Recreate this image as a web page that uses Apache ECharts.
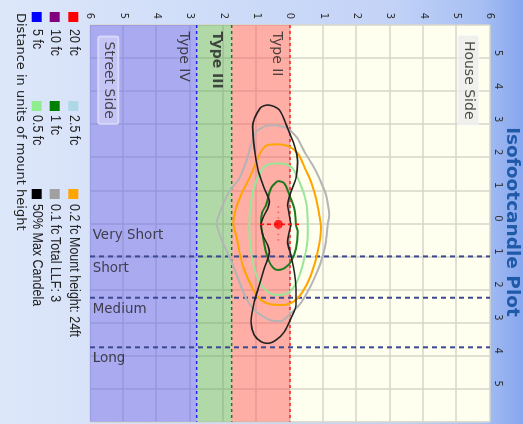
<!DOCTYPE html>
<html><head><meta charset="utf-8">
<script src="https://cdn.jsdelivr.net/npm/echarts@6/dist/echarts.min.js"></script>
<style>
html,body{margin:0;padding:0;overflow:hidden;width:523px;height:424px;background:#dfe8fb;}
#wrap{position:absolute;left:0;top:0;width:424px;height:523px;transform-origin:0 0;transform:translate(523px,0) rotate(90deg);}
#chart{width:424px;height:523px;}
</style></head><body><div id="wrap"><div id="chart"></div></div>
<script>
// ---- data: points are [lateral, longitudinal] in units of mount height ----
const fc01 = [[-0.42,-2.97],[-0.07,-2.87],[0.23,-2.57],[0.43,-2.17],[0.68,-1.76],[0.88,-1.36],[1.08,-0.86],[1.18,-0.25],[1.13,0.05],[1.08,0.56],[0.93,1.16],[0.73,1.66],[0.53,2.07],[0.28,2.47],[-0.03,2.77],[-0.27,2.96],[-0.62,2.92],[-1.02,2.67],[-1.32,2.27],[-1.6,1.56],[-1.8,1.06],[-2.05,0.5],[-2.2,0],[-2.04,-0.49],[-1.83,-0.95],[-1.52,-1.36],[-1.32,-1.86],[-1.17,-2.37],[-1.02,-2.77],[-0.72,-2.95],[-0.42,-2.97]];
const fc02 = [[-0.32,-2.39],[-0.02,-2.32],[0.23,-2.12],[0.43,-1.71],[0.63,-1.26],[0.78,-0.76],[0.88,-0.25],[0.93,0.15],[0.83,0.86],[0.63,1.56],[0.38,2.07],[0.13,2.35],[-0.22,2.47],[-0.57,2.45],[-0.92,2.27],[-1.17,1.87],[-1.42,1.26],[-1.62,0.35],[-1.7,0],[-1.62,-0.45],[-1.47,-0.86],[-1.27,-1.26],[-1.07,-1.71],[-0.87,-2.17],[-0.67,-2.37],[-0.32,-2.39]];
const fc05 = [[-0.52,-1.81],[-0.32,-1.81],[0.03,-1.71],[0.28,-1.26],[0.48,-0.65],[0.53,-0.05],[0.53,0.35],[0.43,1.06],[0.23,1.72],[-0.02,2.07],[-0.37,2.17],[-0.67,2.07],[-0.97,1.66],[-1.17,0.86],[-1.22,0.05],[-1.17,-0.65],[-1.02,-1.26],[-0.77,-1.71],[-0.52,-1.81]];
const fc1 = [[-0.37,-1.28],[-0.17,-1.21],[-0.02,-0.86],[0.13,-0.45],[0.18,0.05],[0.23,0.25],[0.18,0.76],[0.03,1.16],[-0.17,1.36],[-0.37,1.41],[-0.57,1.26],[-0.72,0.86],[-0.82,0.35],[-0.87,0],[-0.83,-0.34],[-0.72,-0.55],[-0.57,-1.06],[-0.37,-1.28]];
const maxCandela50 = [[0.03,0.05],[-0.02,-0.25],[-0.07,-0.55],[0.03,-0.96],[0.18,-1.37],[0.23,-1.86],[0.13,-2.37],[-0.07,-2.87],[-0.32,-3.43],[-0.67,-3.58],[-0.9,-3.48],[-1.12,-2.92],[-1.07,-2.27],[-0.97,-1.66],[-0.77,-1.06],[-0.62,-0.65],[-0.67,-0.45],[-0.82,-0.15],[-0.87,0.05],[-0.82,0.35],[-0.67,0.66],[-0.62,0.86],[-0.77,1.36],[-0.92,1.87],[-1.07,2.37],[-1.17,2.98],[-1.07,3.38],[-0.87,3.58],[-0.67,3.63],[-0.42,3.53],[-0.17,3.28],[0.03,2.87],[0.18,2.47],[0.18,1.97],[0.13,1.46],[0.03,0.96],[-0.07,0.56],[0.03,0.05]];
const luminaire = [-0.35, 0.03];
const typeBounds = [0, -1.75, -2.8];          // Type II | Type III | Type IV limits (lateral)
const typeNames = ['Type II', 'Type III', 'Type IV'];
const lengthBounds = [1, 2.25, 3.75];          // Very Short | Short | Medium | Long limits
const lengthNames = ['Very Short', 'Short', 'Medium', 'Long'];
const legendRows = [
  [['20 fc','#ff0000'],['2.5 fc','#add8e6'],['0.2 fc','#ffa500']],
  [['10 fc','#800080'],['1 fc','#008000'],['0.1 fc','#a0a0a0']],
  [['5 fc','#0000ff'],['0.5 fc','#90ee90'],['50% Max Candela','#000000']]
];
const infoText = ['Mount height: 24ft', 'Total LLF: 3'];

// ---- chart (drawn in portrait, page rotates it) ----
const FONT = 'DejaVu Sans';
const xy = p => [p[1], p[0]];   // chart x = longitudinal, chart y = lateral
const absFmt = v => String(Math.abs(Math.round(v)));
const chart = echarts.init(document.getElementById('chart'), null, {renderer:'canvas'});

function contour(name, pts, color, w, smooth) {
  return {type:'line', name, data:pts.map(xy), symbol:'none', smooth:smooth, z:5,
    lineStyle:{color, width:w}, silent:true};
}
function straight(a, b, color, w, dash, z) {
  return {type:'line', data:[a, b], symbol:'none', z:z||4, silent:true,
    lineStyle:{color, width:w, type:dash}};
}
const series = [];
series.push({type:'line', data:[], z:1, silent:true, markArea:{silent:true, data:[
  [{xAxis:-6, yAxis:-6, itemStyle:{color:'rgba(100,100,240,0.55)'}},{xAxis:6, yAxis:typeBounds[2]}],
  [{xAxis:-6, yAxis:typeBounds[2], itemStyle:{color:'rgba(70,165,70,0.42)'}},{xAxis:6, yAxis:typeBounds[1]}],
  [{xAxis:-6, yAxis:typeBounds[1], itemStyle:{color:'rgba(255,85,85,0.48)'}},{xAxis:6, yAxis:typeBounds[0]}]
]}});
series.push(straight([-6,typeBounds[2]],[6,typeBounds[2]],'#2020ff',1.5,[3,3]));
series.push(straight([-6,typeBounds[1]],[6,typeBounds[1]],'#1f7a1f',1.5,[3,3]));
series.push(straight([-6,typeBounds[0]],[6,typeBounds[0]],'#ff2020',1.5,[3,3]));
lengthBounds.forEach(b => series.push(straight([b,-6],[b,6],'#3c4890',2,[5,4])));
series.push(contour('0.1 fc', fc01, '#b4b4b4', 2, 0.2));
series.push(contour('0.2 fc', fc02, '#ffa500', 2, 0.35));
series.push(contour('0.5 fc', fc05, '#98e698', 2, 0.35));
series.push(contour('1 fc', fc1, '#1f7a1f', 2, 0.35));
series.push(contour('50% Max Candela', maxCandela50, '#222222', 1.6, 0.3));
series.push(straight([luminaire[1], luminaire[0]-0.55],[luminaire[1], luminaire[0]+0.62],'#ff1010',1.6,[4,3],6));
series.push(straight([luminaire[1]-0.55, luminaire[0]],[luminaire[1]+0.55, luminaire[0]],'#ff6060',1.6,[1.5,4],6));
series.push({type:'scatter', data:[xy(luminaire)], symbolSize:9, itemStyle:{color:'#ff0000'}, z:7, silent:true});
const typeLabelLat = [-0.4, -2.2, -3.2];
series.push({type:'scatter', symbolSize:0, silent:true, z:8,
  data: typeNames.map((n,i) => ({value:[-5.8, typeLabelLat[i]], name:n,
    label:{fontWeight: i===1 ? 'bold' : 'normal'}})),
  label:{show:true, position:'right', distance:0, formatter:p=>p.name, color:'#222',
    fontFamily:FONT, fontSize:14, align:'left', verticalAlign:'middle'}});
const lengthLabelLong = [0.38, 1.38, 2.6, 4.1];
series.push({type:'scatter', symbolSize:0, silent:true, z:8,
  data: lengthNames.map((n,i) => ({value:[lengthLabelLong[i], -5.92], name:n})),
  label:{show:true, position:'inside', formatter:p=>p.name, color:'#222', rotate:90,
    fontFamily:FONT, fontSize:13.5, align:'left', verticalAlign:'middle'}});
const boxLabel = {show:true, position:'inside', formatter:p=>p.name, color:'#222',
  fontFamily:FONT, fontSize:14, padding:[3,5,3,5], borderRadius:2};
series.push({type:'scatter', symbolSize:0, silent:true, z:8, data:[
  {value:[-4.33,-5.45], name:'Street Side', label:Object.assign({}, boxLabel, {backgroundColor:'rgba(215,215,250,0.75)', borderColor:'rgba(235,235,255,0.9)', borderWidth:1})},
  {value:[-4.33, 5.35], name:'House Side', label:Object.assign({}, boxLabel, {backgroundColor:'#ececec', borderColor:'#f8f8f8', borderWidth:1})}
]});

// legend graphic
const graphic = [];
const rowY = [449.7, 468.3, 486.3];
const colSw = [12, 101, 189], colTx = [29, 115, 204];
const LF = '12.5px "Liberation Sans"';
legendRows.forEach((row, r) => row.forEach((it, c) => {
  graphic.push({type:'rect', shape:{x:colSw[c], y:rowY[r]-5, width:10, height:10}, style:{fill:it[1]}});
  graphic.push({type:'text', x:colTx[c], y:rowY[r], scaleY:1.1, style:{text:it[0], fill:'#222', font:LF, verticalAlign:'middle'}});
}));
infoText.forEach((t, r) => graphic.push({type:'text', x:237, y:rowY[r], scaleY:1.1, style:{text:t, fill:'#222', font:LF, verticalAlign:'middle'}}));
graphic.push({type:'text', x:13, y:503, style:{text:'Distance in units of mount height', fill:'#222', font:'13px "'+FONT+'"', verticalAlign:'middle'}});
graphic.push({type:'text', x:222, y:11.5, style:{text:'Isofootcandle Plot', fill:'#1f5aa8', font:'bold 18.5px "'+FONT+'"', align:'center', verticalAlign:'middle'}});

chart.setOption({
  animation:false,
  backgroundColor: new echarts.graphic.LinearGradient(0,0,0,1,[
    {offset:0, color:'#86a6ee'},{offset:0.08, color:'#a7bff3'},{offset:0.25, color:'#c3d3f7'},{offset:1, color:'#dde7fa'}]),
  grid:{left:25, top:33, width:396.7, height:400, show:true, backgroundColor:'#fffff0', borderWidth:0},
  xAxis:{type:'value', min:-6, max:6, interval:1, position:'top',
    axisLine:{show:false}, axisTick:{show:false},
    splitLine:{show:true, lineStyle:{color:'#d6d6ca', width:1.5}},
    axisLabel:{formatter:absFmt, showMinLabel:false, showMaxLabel:false, margin:3, fontSize:10, color:'#333', fontFamily:FONT, padding:[0,10,0,0]}},
  yAxis:{type:'value', min:-6, max:6, interval:1,
    axisLine:{show:false}, axisTick:{show:false},
    splitLine:{show:true, lineStyle:{color:'#d6d6ca', width:1.5}},
    axisLabel:{formatter:absFmt, margin:6, fontSize:10, color:'#333', fontFamily:FONT, padding:[4,0,0,0]}},
  graphic: graphic,
  series: series
});
</script></body></html>
